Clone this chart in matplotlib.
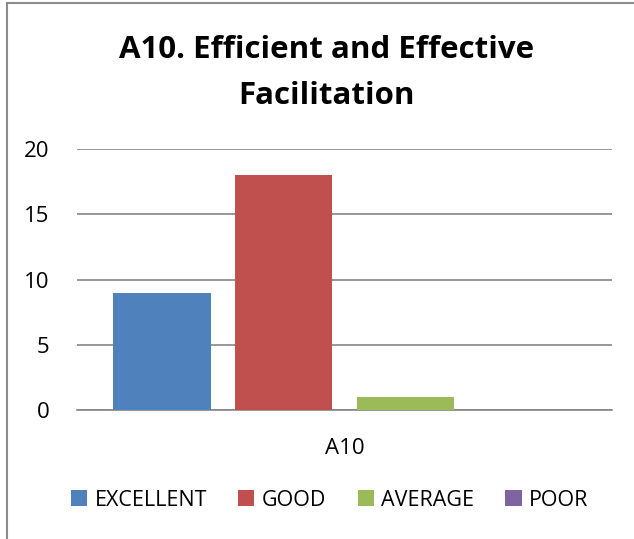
import matplotlib.pyplot as plt
from matplotlib.lines import Line2D

# data
categories = ["A10"]
series_names = ["EXCELLENT", "GOOD", "AVERAGE", "POOR"]
series_values = [[9], [18], [1], [0]]
colors = ["#4F81BD", "#C0504D", "#9BBB59", "#8064A2"]
y_ticks = [0, 5, 10, 15, 20]

plt.rcParams['font.family'] = ['Open Sans', 'DejaVu Sans']

fig = plt.figure(figsize=(6.34, 5.39), dpi=100)
ax = fig.add_axes([0.1215, 0.2393, 0.8438, 0.4842])

# chart border (top and left edges visible)
fig.add_artist(Line2D([0.011, 0.011], [0, 0.995], color="#8c8c8c", lw=1.5))
fig.add_artist(Line2D([0.011, 1.0], [0.995, 0.995], color="#8c8c8c", lw=1.5))

width = 0.183
step = 0.228
n = len(series_names)
for i, (name, vals) in enumerate(zip(series_names, series_values)):
    offset = (i - (n - 1) / 2) * step
    xs = [j + offset for j in range(len(categories))]
    ax.bar(xs, vals, width=width, color=colors[i], label=name, zorder=3)

ax.set_xlim(-0.5, len(categories) - 0.5)
ax.set_ylim(0, 20)
ax.set_yticks(y_ticks)
ax.set_xticks(range(len(categories)))
ax.set_xticklabels(categories)
ax.tick_params(axis='y', length=0, pad=20, labelsize=16)
ax.tick_params(axis='x', length=0, pad=20, labelsize=16)
ax.yaxis.grid(True, color="#868686", lw=1.2, zorder=0)

for side in ["top", "right", "left"]:
    ax.spines[side].set_visible(False)
ax.spines["bottom"].set_color("#868686")
ax.spines["bottom"].set_linewidth(1.2)

fig.text(0.515, 0.865, "A10. Efficient and Effective\nFacilitation",
         ha="center", va="center", fontsize=22.5, fontweight="bold",
         linespacing=1.7)

fig.legend(loc="center", bbox_to_anchor=(0.52, 0.072), ncol=4, frameon=False,
           fontsize=15.5, handlelength=0.75, handleheight=0.75,
           handletextpad=0.35, columnspacing=1.45)

plt.savefig("out.png", dpi=100)
